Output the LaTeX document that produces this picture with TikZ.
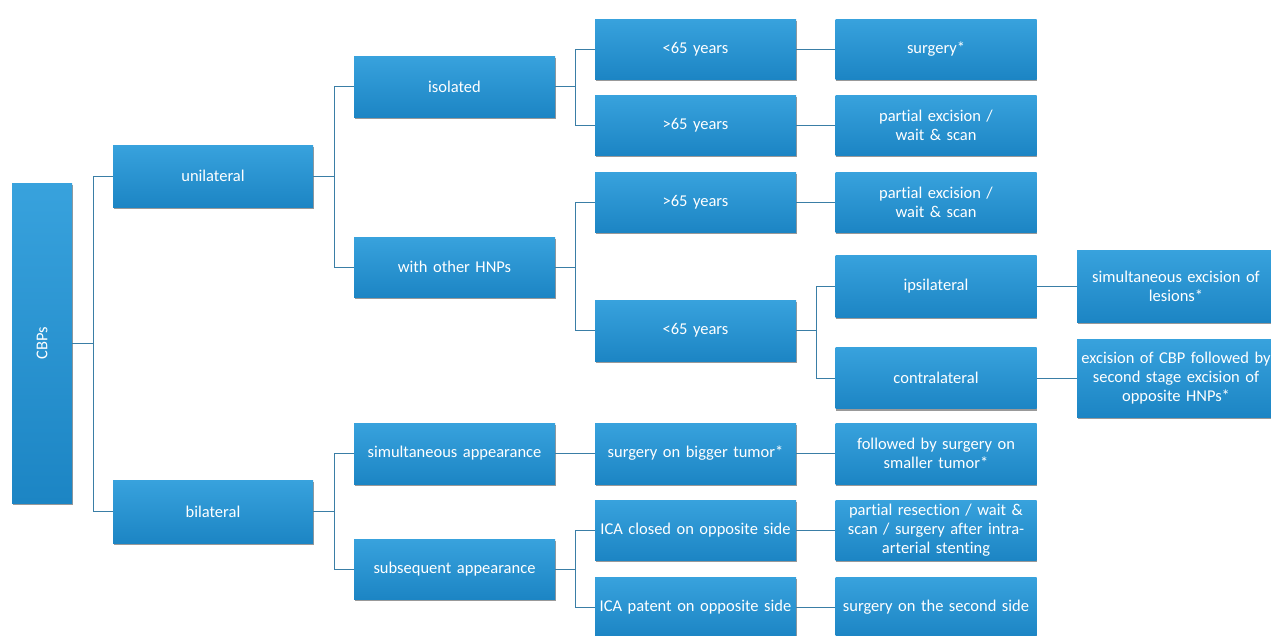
\documentclass[tikz,border=0pt]{standalone}
\usepackage{fontspec}
\setmainfont{Carlito}[RawFeature={-liga;-clig;-calt;-dlig}]
\usetikzlibrary{shadows}
\definecolor{boxtop}{HTML}{38A2DD}
\definecolor{boxbot}{HTML}{1C85C4}
\definecolor{linec}{HTML}{3A7EA6}
\tikzset{
  bx/.style={rectangle, draw=none, top color=boxtop, bottom color=boxbot,
    minimum width=201pt, minimum height=61pt, inner sep=2pt, text width=196pt,
    align=center, text=white, font=\fontsize{16.5}{19}\selectfont,
    drop shadow={shadow xshift=0.8pt, shadow yshift=-2pt, opacity=0.4, fill=black}},
  conn/.style={draw=linec, line width=0.8pt},
}
\begin{document}
\begin{tikzpicture}[x=1pt,y=-1pt]
\useasboundingbox (0,0) rectangle (1271,635);
\fill[white] (0,0) rectangle (1271,635);
% column 1
\node[bx, minimum width=60pt, minimum height=320pt, text width=50pt] (cbp) at (42,343) {\rotatebox{90}{CBPs}};
% column 2
\node[bx, minimum width=200pt, minimum height=62pt] (uni) at (213,176) {unilateral};
\node[bx, minimum width=200pt, minimum height=63pt] (bil) at (213,511.5) {bilateral};
% column 3
\node[bx] (iso) at (454.5,86.5) {isolated};
\node[bx, minimum height=60pt] (hnp) at (454.5,267) {with other HNPs};
\node[bx] (sim) at (454.5,453.5) {simultaneous appearance};
\node[bx, minimum height=60pt] (sub) at (454.5,569) {subsequent appearance};
% column 4
\node[bx, minimum height=60pt] (ua) at (695.5,49) {<65 years};
\node[bx, minimum height=60pt] (oa) at (695.5,125) {>65 years};
\node[bx, minimum height=60pt] (ob) at (695.5,202) {>65 years};
\node[bx] (ub) at (695.5,330.5) {<65 years};
\node[bx] (big) at (695.5,453.5) {surgery on bigger tumor*};
\node[bx, minimum height=60pt] (clo) at (695.5,530) {ICA closed on opposite side};
\node[bx, minimum height=60pt] (pat) at (695.5,607) {ICA patent on opposite side};
% column 5
\node[bx, minimum height=60pt] (surg) at (936,49) {surgery*};
\node[bx, minimum height=60pt] (pea) at (936,125) {partial excision /\\ wait \& scan};
\node[bx, minimum height=60pt] (peb) at (936,202) {partial excision /\\ wait \& scan};
\node[bx, minimum height=62pt] (ips) at (936,286) {ipsilateral};
\node[bx] (con) at (936,378) {contralateral};
\node[bx] (fol) at (936,453.5) {followed by surgery on\\ smaller tumor*};
\node[bx, minimum height=60pt] (res) at (936,530) {partial resection / wait \&\\ scan / surgery after intra-\\ arterial stenting};
\node[bx, minimum height=60pt] (sec) at (936,607) {surgery on the second side};
% column 6
\node[bx, minimum width=196pt, minimum height=72pt, text width=194pt] (simx) at (1176,286) {simultaneous excision of\\ lesions*};
\node[bx, minimum width=196pt, minimum height=78pt, text width=194pt] (exc) at (1176,378) {excision of CBP followed by\\ second stage excision of\\ opposite HNPs*};
% connectors
\draw[conn] (cbp.east) -- ++(21,0) |- (uni.west);
\draw[conn] (cbp.east) -- ++(21,0) |- (bil.west);
\draw[conn] (uni.east) -- ++(21,0) |- (iso.west);
\draw[conn] (uni.east) -- ++(21,0) |- (hnp.west);
\draw[conn] (bil.east) -- ++(21,0) |- (sim.west);
\draw[conn] (bil.east) -- ++(21,0) |- (sub.west);
\draw[conn] (iso.east) -- ++(20,0) |- (ua.west);
\draw[conn] (iso.east) -- ++(20,0) |- (oa.west);
\draw[conn] (hnp.east) -- ++(20,0) |- (ob.west);
\draw[conn] (hnp.east) -- ++(20,0) |- (ub.west);
\draw[conn] (sub.east) -- ++(20,0) |- (clo.west);
\draw[conn] (sub.east) -- ++(20,0) |- (pat.west);
\draw[conn] (ub.east) -- ++(20,0) |- (ips.west);
\draw[conn] (ub.east) -- ++(20,0) |- (con.west);
\draw[conn] (ua.east) -- (surg.west);
\draw[conn] (oa.east) -- (pea.west);
\draw[conn] (ob.east) -- (peb.west);
\draw[conn] (sim.east) -- (big.west);
\draw[conn] (big.east) -- (fol.west);
\draw[conn] (clo.east) -- (res.west);
\draw[conn] (pat.east) -- (sec.west);
\draw[conn] (ips.east) -- (simx.west);
\draw[conn] (con.east) -- (exc.west);
\end{tikzpicture}
\end{document}
